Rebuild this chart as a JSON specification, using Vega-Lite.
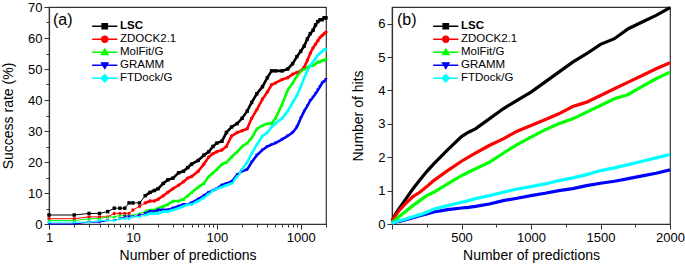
{
"$schema": "https://vega.github.io/schema/vega-lite/v6.json",
"padding": {"left": 0, "right": 0, "top": 0, "bottom": 3},
"spacing": 19,
"config": {
 "font": "Liberation Sans",
 "view": {"stroke": "#333", "strokeWidth": 1.2},
 "axis": {"domainColor": "#333", "domainWidth": 1.2, "tickColor": "#333", "tickWidth": 1, "labelColor": "#000", "titleColor": "#000", "labelFontSize": 13, "titleFontSize": 14, "titleFontWeight": "normal", "grid": false, "labelPadding": 2, "labelFlush": false, "labelOverlap": false},
 "axisY": {"titlePadding": 12},
 "axisX": {"titlePadding": 4},
 "title": {"fontSize": 16, "fontWeight": "normal", "color": "#000"},
 "legend": {"title": null, "orient": "none", "padding": 0, "labelFontSize": 11.5, "labelColor": "#000", "symbolSize": 36, "symbolStrokeWidth": 1.3, "labelOffset": 9.5, "rowPadding": 0, "symbolOpacity": 1}
},
"datasets": {
"a": [
{"s":"LSC","n":1,"v":2.9},{"s":"LSC","n":2,"v":2.9},{"s":"LSC","n":3,"v":3.4},{"s":"LSC","n":4,"v":3.4},{"s":"LSC","n":5,"v":4.0},{"s":"LSC","n":6,"v":5.1},{"s":"LSC","n":7,"v":5.1},{"s":"LSC","n":8,"v":5.1},{"s":"LSC","n":9,"v":6.8},{"s":"LSC","n":10,"v":6.8},{"s":"LSC","n":12,"v":6.8},{"s":"LSC","n":14,"v":9.1},{"s":"LSC","n":16,"v":10.2},{"s":"LSC","n":18,"v":10.8},{"s":"LSC","n":20,"v":11.4},{"s":"LSC","n":23,"v":13.1},{"s":"LSC","n":26,"v":14.2},{"s":"LSC","n":30,"v":14.8},{"s":"LSC","n":35,"v":16.5},{"s":"LSC","n":40,"v":17.0},{"s":"LSC","n":45,"v":18.2},{"s":"LSC","n":50,"v":19.3},{"s":"LSC","n":60,"v":20.5},{"s":"LSC","n":70,"v":22.2},{"s":"LSC","n":80,"v":23.3},{"s":"LSC","n":90,"v":25.0},{"s":"LSC","n":100,"v":26.1},{"s":"LSC","n":115,"v":26.7},{"s":"LSC","n":130,"v":29.5},{"s":"LSC","n":150,"v":31.3},{"s":"LSC","n":175,"v":32.4},{"s":"LSC","n":200,"v":34.1},{"s":"LSC","n":230,"v":36.4},{"s":"LSC","n":260,"v":39.2},{"s":"LSC","n":300,"v":42.0},{"s":"LSC","n":350,"v":44.3},{"s":"LSC","n":400,"v":47.2},{"s":"LSC","n":450,"v":49.4},{"s":"LSC","n":500,"v":49.4},{"s":"LSC","n":600,"v":49.4},{"s":"LSC","n":700,"v":50.0},{"s":"LSC","n":800,"v":51.7},{"s":"LSC","n":900,"v":54.0},{"s":"LSC","n":1000,"v":55.7},{"s":"LSC","n":1100,"v":57.4},{"s":"LSC","n":1200,"v":59.7},{"s":"LSC","n":1300,"v":61.4},{"s":"LSC","n":1400,"v":62.5},{"s":"LSC","n":1500,"v":64.2},{"s":"LSC","n":1600,"v":65.3},{"s":"LSC","n":1700,"v":65.9},{"s":"LSC","n":1800,"v":65.9},{"s":"LSC","n":1900,"v":66.5},{"s":"LSC","n":2000,"v":66.5},
{"s":"ZDOCK2.1","n":1,"v":1.7},{"s":"ZDOCK2.1","n":2,"v":1.7},{"s":"ZDOCK2.1","n":3,"v":2.3},{"s":"ZDOCK2.1","n":4,"v":2.3},{"s":"ZDOCK2.1","n":5,"v":2.3},{"s":"ZDOCK2.1","n":6,"v":3.4},{"s":"ZDOCK2.1","n":7,"v":3.4},{"s":"ZDOCK2.1","n":8,"v":3.4},{"s":"ZDOCK2.1","n":9,"v":3.4},{"s":"ZDOCK2.1","n":10,"v":4.5},{"s":"ZDOCK2.1","n":12,"v":5.7},{"s":"ZDOCK2.1","n":14,"v":6.8},{"s":"ZDOCK2.1","n":16,"v":7.4},{"s":"ZDOCK2.1","n":18,"v":7.4},{"s":"ZDOCK2.1","n":20,"v":8.0},{"s":"ZDOCK2.1","n":23,"v":9.1},{"s":"ZDOCK2.1","n":26,"v":10.2},{"s":"ZDOCK2.1","n":30,"v":11.4},{"s":"ZDOCK2.1","n":35,"v":12.5},{"s":"ZDOCK2.1","n":40,"v":13.6},{"s":"ZDOCK2.1","n":45,"v":14.8},{"s":"ZDOCK2.1","n":50,"v":15.3},{"s":"ZDOCK2.1","n":60,"v":17.0},{"s":"ZDOCK2.1","n":70,"v":19.3},{"s":"ZDOCK2.1","n":80,"v":21.6},{"s":"ZDOCK2.1","n":90,"v":22.7},{"s":"ZDOCK2.1","n":100,"v":23.3},{"s":"ZDOCK2.1","n":115,"v":23.9},{"s":"ZDOCK2.1","n":130,"v":25.0},{"s":"ZDOCK2.1","n":150,"v":28.4},{"s":"ZDOCK2.1","n":175,"v":29.5},{"s":"ZDOCK2.1","n":200,"v":30.1},{"s":"ZDOCK2.1","n":230,"v":30.7},{"s":"ZDOCK2.1","n":260,"v":34.1},{"s":"ZDOCK2.1","n":300,"v":36.9},{"s":"ZDOCK2.1","n":350,"v":40.3},{"s":"ZDOCK2.1","n":400,"v":42.6},{"s":"ZDOCK2.1","n":450,"v":44.9},{"s":"ZDOCK2.1","n":500,"v":45.5},{"s":"ZDOCK2.1","n":600,"v":46.6},{"s":"ZDOCK2.1","n":700,"v":47.2},{"s":"ZDOCK2.1","n":800,"v":48.3},{"s":"ZDOCK2.1","n":900,"v":48.9},{"s":"ZDOCK2.1","n":1000,"v":49.4},{"s":"ZDOCK2.1","n":1100,"v":50.6},{"s":"ZDOCK2.1","n":1200,"v":52.8},{"s":"ZDOCK2.1","n":1300,"v":55.1},{"s":"ZDOCK2.1","n":1400,"v":56.8},{"s":"ZDOCK2.1","n":1500,"v":58.0},{"s":"ZDOCK2.1","n":1600,"v":59.1},{"s":"ZDOCK2.1","n":1700,"v":60.2},{"s":"ZDOCK2.1","n":1800,"v":60.8},{"s":"ZDOCK2.1","n":1900,"v":61.4},{"s":"ZDOCK2.1","n":2000,"v":61.9},
{"s":"MolFit/G","n":1,"v":1.1},{"s":"MolFit/G","n":2,"v":1.1},{"s":"MolFit/G","n":3,"v":1.7},{"s":"MolFit/G","n":4,"v":1.7},{"s":"MolFit/G","n":5,"v":2.3},{"s":"MolFit/G","n":6,"v":2.3},{"s":"MolFit/G","n":7,"v":2.8},{"s":"MolFit/G","n":8,"v":2.8},{"s":"MolFit/G","n":9,"v":2.8},{"s":"MolFit/G","n":10,"v":2.8},{"s":"MolFit/G","n":12,"v":3.4},{"s":"MolFit/G","n":14,"v":4.0},{"s":"MolFit/G","n":16,"v":4.5},{"s":"MolFit/G","n":18,"v":4.5},{"s":"MolFit/G","n":20,"v":5.1},{"s":"MolFit/G","n":23,"v":5.7},{"s":"MolFit/G","n":26,"v":6.3},{"s":"MolFit/G","n":30,"v":7.4},{"s":"MolFit/G","n":35,"v":7.4},{"s":"MolFit/G","n":40,"v":8.0},{"s":"MolFit/G","n":45,"v":9.1},{"s":"MolFit/G","n":50,"v":10.2},{"s":"MolFit/G","n":60,"v":11.9},{"s":"MolFit/G","n":70,"v":13.1},{"s":"MolFit/G","n":80,"v":15.3},{"s":"MolFit/G","n":90,"v":16.5},{"s":"MolFit/G","n":100,"v":17.6},{"s":"MolFit/G","n":115,"v":19.3},{"s":"MolFit/G","n":130,"v":19.9},{"s":"MolFit/G","n":150,"v":21.6},{"s":"MolFit/G","n":175,"v":23.3},{"s":"MolFit/G","n":200,"v":25.0},{"s":"MolFit/G","n":230,"v":26.1},{"s":"MolFit/G","n":260,"v":27.8},{"s":"MolFit/G","n":300,"v":30.7},{"s":"MolFit/G","n":350,"v":31.8},{"s":"MolFit/G","n":400,"v":32.4},{"s":"MolFit/G","n":450,"v":32.4},{"s":"MolFit/G","n":500,"v":34.1},{"s":"MolFit/G","n":600,"v":38.6},{"s":"MolFit/G","n":700,"v":43.2},{"s":"MolFit/G","n":800,"v":45.5},{"s":"MolFit/G","n":900,"v":47.7},{"s":"MolFit/G","n":1000,"v":49.4},{"s":"MolFit/G","n":1100,"v":50.0},{"s":"MolFit/G","n":1200,"v":50.6},{"s":"MolFit/G","n":1300,"v":51.1},{"s":"MolFit/G","n":1400,"v":51.1},{"s":"MolFit/G","n":1500,"v":51.7},{"s":"MolFit/G","n":1600,"v":52.3},{"s":"MolFit/G","n":1700,"v":52.3},{"s":"MolFit/G","n":1800,"v":52.8},{"s":"MolFit/G","n":1900,"v":52.8},{"s":"MolFit/G","n":2000,"v":53.4},
{"s":"GRAMM","n":1,"v":0.0},{"s":"GRAMM","n":2,"v":0.0},{"s":"GRAMM","n":3,"v":0.6},{"s":"GRAMM","n":4,"v":0.6},{"s":"GRAMM","n":5,"v":1.1},{"s":"GRAMM","n":6,"v":1.1},{"s":"GRAMM","n":7,"v":1.7},{"s":"GRAMM","n":8,"v":2.3},{"s":"GRAMM","n":9,"v":2.3},{"s":"GRAMM","n":10,"v":2.3},{"s":"GRAMM","n":12,"v":2.8},{"s":"GRAMM","n":14,"v":3.4},{"s":"GRAMM","n":16,"v":4.0},{"s":"GRAMM","n":18,"v":4.0},{"s":"GRAMM","n":20,"v":4.5},{"s":"GRAMM","n":23,"v":4.5},{"s":"GRAMM","n":26,"v":4.5},{"s":"GRAMM","n":30,"v":5.1},{"s":"GRAMM","n":35,"v":5.7},{"s":"GRAMM","n":40,"v":6.3},{"s":"GRAMM","n":45,"v":6.3},{"s":"GRAMM","n":50,"v":6.8},{"s":"GRAMM","n":60,"v":8.0},{"s":"GRAMM","n":70,"v":9.1},{"s":"GRAMM","n":80,"v":10.2},{"s":"GRAMM","n":90,"v":10.8},{"s":"GRAMM","n":100,"v":11.4},{"s":"GRAMM","n":115,"v":12.5},{"s":"GRAMM","n":130,"v":13.1},{"s":"GRAMM","n":150,"v":13.6},{"s":"GRAMM","n":175,"v":15.9},{"s":"GRAMM","n":200,"v":17.0},{"s":"GRAMM","n":230,"v":17.6},{"s":"GRAMM","n":260,"v":19.9},{"s":"GRAMM","n":300,"v":22.2},{"s":"GRAMM","n":350,"v":23.9},{"s":"GRAMM","n":400,"v":25.0},{"s":"GRAMM","n":450,"v":25.6},{"s":"GRAMM","n":500,"v":26.1},{"s":"GRAMM","n":600,"v":27.3},{"s":"GRAMM","n":700,"v":28.4},{"s":"GRAMM","n":800,"v":29.5},{"s":"GRAMM","n":900,"v":31.3},{"s":"GRAMM","n":1000,"v":34.1},{"s":"GRAMM","n":1100,"v":36.4},{"s":"GRAMM","n":1200,"v":38.1},{"s":"GRAMM","n":1300,"v":39.8},{"s":"GRAMM","n":1400,"v":40.9},{"s":"GRAMM","n":1500,"v":42.0},{"s":"GRAMM","n":1600,"v":43.2},{"s":"GRAMM","n":1700,"v":44.3},{"s":"GRAMM","n":1800,"v":45.5},{"s":"GRAMM","n":1900,"v":46.0},{"s":"GRAMM","n":2000,"v":46.6},
{"s":"FTDock/G","n":1,"v":0.6},{"s":"FTDock/G","n":2,"v":0.6},{"s":"FTDock/G","n":3,"v":0.6},{"s":"FTDock/G","n":4,"v":1.1},{"s":"FTDock/G","n":5,"v":1.1},{"s":"FTDock/G","n":6,"v":1.1},{"s":"FTDock/G","n":7,"v":1.7},{"s":"FTDock/G","n":8,"v":1.7},{"s":"FTDock/G","n":9,"v":1.7},{"s":"FTDock/G","n":10,"v":2.3},{"s":"FTDock/G","n":12,"v":2.3},{"s":"FTDock/G","n":14,"v":2.8},{"s":"FTDock/G","n":16,"v":3.4},{"s":"FTDock/G","n":18,"v":3.4},{"s":"FTDock/G","n":20,"v":3.4},{"s":"FTDock/G","n":23,"v":4.0},{"s":"FTDock/G","n":26,"v":4.0},{"s":"FTDock/G","n":30,"v":4.5},{"s":"FTDock/G","n":35,"v":5.1},{"s":"FTDock/G","n":40,"v":5.7},{"s":"FTDock/G","n":45,"v":6.3},{"s":"FTDock/G","n":50,"v":6.3},{"s":"FTDock/G","n":60,"v":7.4},{"s":"FTDock/G","n":70,"v":8.5},{"s":"FTDock/G","n":80,"v":9.7},{"s":"FTDock/G","n":90,"v":10.8},{"s":"FTDock/G","n":100,"v":11.4},{"s":"FTDock/G","n":115,"v":11.9},{"s":"FTDock/G","n":130,"v":12.5},{"s":"FTDock/G","n":150,"v":13.1},{"s":"FTDock/G","n":175,"v":15.3},{"s":"FTDock/G","n":200,"v":17.6},{"s":"FTDock/G","n":230,"v":19.9},{"s":"FTDock/G","n":260,"v":22.7},{"s":"FTDock/G","n":300,"v":25.6},{"s":"FTDock/G","n":350,"v":28.4},{"s":"FTDock/G","n":400,"v":29.5},{"s":"FTDock/G","n":450,"v":31.3},{"s":"FTDock/G","n":500,"v":32.4},{"s":"FTDock/G","n":600,"v":34.1},{"s":"FTDock/G","n":700,"v":36.4},{"s":"FTDock/G","n":800,"v":39.2},{"s":"FTDock/G","n":900,"v":41.5},{"s":"FTDock/G","n":1000,"v":44.3},{"s":"FTDock/G","n":1100,"v":47.2},{"s":"FTDock/G","n":1200,"v":49.4},{"s":"FTDock/G","n":1300,"v":51.1},{"s":"FTDock/G","n":1400,"v":52.3},{"s":"FTDock/G","n":1500,"v":53.4},{"s":"FTDock/G","n":1600,"v":54.5},{"s":"FTDock/G","n":1700,"v":55.1},{"s":"FTDock/G","n":1800,"v":55.7},{"s":"FTDock/G","n":1900,"v":56.3},{"s":"FTDock/G","n":2000,"v":56.3}
],
"b": [
{"s":"LSC","n":0,"v":0.1},{"s":"LSC","n":25,"v":0.3},{"s":"LSC","n":50,"v":0.45},{"s":"LSC","n":100,"v":0.75},{"s":"LSC","n":150,"v":1.05},{"s":"LSC","n":200,"v":1.32},{"s":"LSC","n":250,"v":1.57},{"s":"LSC","n":300,"v":1.8},{"s":"LSC","n":400,"v":2.22},{"s":"LSC","n":500,"v":2.62},{"s":"LSC","n":550,"v":2.75},{"s":"LSC","n":600,"v":2.85},{"s":"LSC","n":700,"v":3.15},{"s":"LSC","n":800,"v":3.45},{"s":"LSC","n":900,"v":3.7},{"s":"LSC","n":1000,"v":3.95},{"s":"LSC","n":1100,"v":4.25},{"s":"LSC","n":1200,"v":4.55},{"s":"LSC","n":1300,"v":4.85},{"s":"LSC","n":1400,"v":5.1},{"s":"LSC","n":1500,"v":5.38},{"s":"LSC","n":1600,"v":5.55},{"s":"LSC","n":1700,"v":5.85},{"s":"LSC","n":1800,"v":6.05},{"s":"LSC","n":1900,"v":6.25},{"s":"LSC","n":2000,"v":6.48},
{"s":"ZDOCK2.1","n":0,"v":0.1},{"s":"ZDOCK2.1","n":25,"v":0.25},{"s":"ZDOCK2.1","n":50,"v":0.4},{"s":"ZDOCK2.1","n":100,"v":0.62},{"s":"ZDOCK2.1","n":150,"v":0.82},{"s":"ZDOCK2.1","n":200,"v":0.95},{"s":"ZDOCK2.1","n":250,"v":1.12},{"s":"ZDOCK2.1","n":300,"v":1.3},{"s":"ZDOCK2.1","n":400,"v":1.6},{"s":"ZDOCK2.1","n":500,"v":1.88},{"s":"ZDOCK2.1","n":550,"v":2.0},{"s":"ZDOCK2.1","n":600,"v":2.12},{"s":"ZDOCK2.1","n":700,"v":2.35},{"s":"ZDOCK2.1","n":800,"v":2.55},{"s":"ZDOCK2.1","n":900,"v":2.78},{"s":"ZDOCK2.1","n":1000,"v":2.95},{"s":"ZDOCK2.1","n":1100,"v":3.12},{"s":"ZDOCK2.1","n":1200,"v":3.3},{"s":"ZDOCK2.1","n":1300,"v":3.52},{"s":"ZDOCK2.1","n":1400,"v":3.65},{"s":"ZDOCK2.1","n":1500,"v":3.85},{"s":"ZDOCK2.1","n":1600,"v":4.05},{"s":"ZDOCK2.1","n":1700,"v":4.25},{"s":"ZDOCK2.1","n":1800,"v":4.45},{"s":"ZDOCK2.1","n":1900,"v":4.65},{"s":"ZDOCK2.1","n":2000,"v":4.83},
{"s":"MolFit/G","n":0,"v":0.05},{"s":"MolFit/G","n":25,"v":0.12},{"s":"MolFit/G","n":50,"v":0.22},{"s":"MolFit/G","n":100,"v":0.38},{"s":"MolFit/G","n":150,"v":0.55},{"s":"MolFit/G","n":200,"v":0.7},{"s":"MolFit/G","n":250,"v":0.85},{"s":"MolFit/G","n":300,"v":0.95},{"s":"MolFit/G","n":400,"v":1.2},{"s":"MolFit/G","n":500,"v":1.45},{"s":"MolFit/G","n":550,"v":1.55},{"s":"MolFit/G","n":600,"v":1.65},{"s":"MolFit/G","n":700,"v":1.85},{"s":"MolFit/G","n":800,"v":2.12},{"s":"MolFit/G","n":900,"v":2.38},{"s":"MolFit/G","n":1000,"v":2.6},{"s":"MolFit/G","n":1100,"v":2.82},{"s":"MolFit/G","n":1200,"v":3.0},{"s":"MolFit/G","n":1300,"v":3.15},{"s":"MolFit/G","n":1400,"v":3.35},{"s":"MolFit/G","n":1500,"v":3.55},{"s":"MolFit/G","n":1600,"v":3.75},{"s":"MolFit/G","n":1700,"v":3.88},{"s":"MolFit/G","n":1800,"v":4.12},{"s":"MolFit/G","n":1900,"v":4.35},{"s":"MolFit/G","n":2000,"v":4.55},
{"s":"GRAMM","n":0,"v":0.02},{"s":"GRAMM","n":25,"v":0.05},{"s":"GRAMM","n":50,"v":0.08},{"s":"GRAMM","n":100,"v":0.13},{"s":"GRAMM","n":150,"v":0.19},{"s":"GRAMM","n":200,"v":0.25},{"s":"GRAMM","n":250,"v":0.3},{"s":"GRAMM","n":300,"v":0.36},{"s":"GRAMM","n":400,"v":0.43},{"s":"GRAMM","n":500,"v":0.48},{"s":"GRAMM","n":550,"v":0.5},{"s":"GRAMM","n":600,"v":0.53},{"s":"GRAMM","n":700,"v":0.6},{"s":"GRAMM","n":800,"v":0.7},{"s":"GRAMM","n":900,"v":0.77},{"s":"GRAMM","n":1000,"v":0.85},{"s":"GRAMM","n":1100,"v":0.92},{"s":"GRAMM","n":1200,"v":1.0},{"s":"GRAMM","n":1300,"v":1.06},{"s":"GRAMM","n":1400,"v":1.15},{"s":"GRAMM","n":1500,"v":1.22},{"s":"GRAMM","n":1600,"v":1.28},{"s":"GRAMM","n":1700,"v":1.36},{"s":"GRAMM","n":1800,"v":1.44},{"s":"GRAMM","n":1900,"v":1.52},{"s":"GRAMM","n":2000,"v":1.62},
{"s":"FTDock/G","n":0,"v":0.02},{"s":"FTDock/G","n":25,"v":0.06},{"s":"FTDock/G","n":50,"v":0.1},{"s":"FTDock/G","n":100,"v":0.15},{"s":"FTDock/G","n":150,"v":0.22},{"s":"FTDock/G","n":200,"v":0.28},{"s":"FTDock/G","n":250,"v":0.35},{"s":"FTDock/G","n":300,"v":0.45},{"s":"FTDock/G","n":400,"v":0.55},{"s":"FTDock/G","n":500,"v":0.65},{"s":"FTDock/G","n":550,"v":0.7},{"s":"FTDock/G","n":600,"v":0.76},{"s":"FTDock/G","n":700,"v":0.85},{"s":"FTDock/G","n":800,"v":0.95},{"s":"FTDock/G","n":900,"v":1.05},{"s":"FTDock/G","n":1000,"v":1.12},{"s":"FTDock/G","n":1100,"v":1.2},{"s":"FTDock/G","n":1200,"v":1.3},{"s":"FTDock/G","n":1300,"v":1.38},{"s":"FTDock/G","n":1400,"v":1.48},{"s":"FTDock/G","n":1500,"v":1.6},{"s":"FTDock/G","n":1600,"v":1.68},{"s":"FTDock/G","n":1700,"v":1.78},{"s":"FTDock/G","n":1800,"v":1.88},{"s":"FTDock/G","n":1900,"v":1.98},{"s":"FTDock/G","n":2000,"v":2.08}
]
},
"resolve": {"scale": {"color": "independent"}},
"hconcat": [
{
 "width": 277, "height": 217,
 "title": {"text": "(a)", "anchor": "start", "frame": "group", "offset": -27, "dx": 4},
 "data": {"name": "a"},
 "encoding": {
  "x": {"field": "n", "type": "quantitative", "scale": {"type": "log", "domain": [1, 2000], "nice": false},
   "axis": {"title": "Number of predictions", "format": "d", "values": [1,2,3,4,5,6,7,8,9,10,20,30,40,50,60,70,80,90,100,200,300,400,500,600,700,800,900,1000,2000],
    "labelExpr": "(datum.value == 1 || datum.value == 10 || datum.value == 100 || datum.value == 1000) ? datum.label : ''",
    "tickSize": {"condition": {"test": "datum.value == 1 || datum.value == 10 || datum.value == 100 || datum.value == 1000", "value": 5}, "value": 3}}},
  "y": {"field": "v", "type": "quantitative", "scale": {"domain": [0, 70], "nice": false},
   "axis": {"title": "Success rate (%)", "values": [0,5,10,15,20,25,30,35,40,45,50,55,60,65,70],
    "labelExpr": "datum.value % 10 == 0 ? datum.label : ''",
    "tickSize": {"condition": {"test": "datum.value % 10 == 0", "value": 5}, "value": 3}}}
 },
 "layer": [
  {"mark": {"type": "line", "strokeWidth": 1},
   "encoding": {"color": {"field": "s", "type": "nominal",
    "scale": {"domain": ["LSC","ZDOCK2.1","MolFit/G","GRAMM","FTDock/G"], "range": ["#000000","#ff0000","#00ff00","#0000ff","#00ffff"]},
    "legend": {"legendX": 50, "legendY": 13.5,
     "labelFontWeight": {"expr": "datum.value === 'LSC' ? 'bold' : 'normal'"},
     "symbolType": {"expr": "datum.value === 'LSC' ? 'M-4.2,0H4.2M-0.9,-0.9H0.9V0.9H-0.9Z' : datum.value === 'ZDOCK2.1' ? 'M-4.2,0H4.2M-1,0A1,1,0,1,0,1,0A1,1,0,1,0,-1,0Z' : datum.value === 'MolFit/G' ? 'M-4.2,0H4.2M0,-1.1L1.1,0.8H-1.1Z' : datum.value === 'GRAMM' ? 'M-4.2,0H4.2M0,1.1L1.1,-0.8H-1.1Z' : 'M-4.2,0H4.2M0,-1.25L1.25,0L0,1.25L-1.25,0Z'"},
     "symbolFillColor": {"expr": "datum.value === 'LSC' ? '#000000' : datum.value === 'ZDOCK2.1' ? '#ff0000' : datum.value === 'MolFit/G' ? '#00ff00' : datum.value === 'GRAMM' ? '#0000ff' : '#00ffff'"},
     "symbolStrokeColor": {"expr": "datum.value === 'LSC' ? '#000000' : datum.value === 'ZDOCK2.1' ? '#ff0000' : datum.value === 'MolFit/G' ? '#00ff00' : datum.value === 'GRAMM' ? '#0000ff' : '#00ffff'"}}}}},
  {"transform": [{"filter": "datum.n >= 14"}], "mark": {"type": "line", "strokeWidth": 2.6},
   "encoding": {"color": {"field": "s", "type": "nominal", "legend": null,
    "scale": {"domain": ["LSC","ZDOCK2.1","MolFit/G","GRAMM","FTDock/G"], "range": ["#000000","#ff0000","#00ff00","#0000ff","#00ffff"]}}}},
  {"transform": [{"filter": "datum.s == 'LSC'"}], "mark": {"type": "point", "filled": true, "opacity": 1, "size": 12, "shape": "square", "color": "#000000"}},
  {"transform": [{"filter": "datum.s == 'ZDOCK2.1'"}], "mark": {"type": "point", "filled": true, "opacity": 1, "size": 12, "shape": "circle", "color": "#ff0000"}},
  {"transform": [{"filter": "datum.s == 'MolFit/G'"}], "mark": {"type": "point", "filled": true, "opacity": 1, "size": 12, "shape": "triangle-up", "color": "#00ff00"}},
  {"transform": [{"filter": "datum.s == 'GRAMM'"}], "mark": {"type": "point", "filled": true, "opacity": 1, "size": 12, "shape": "triangle-down", "color": "#0000ff"}},
  {"transform": [{"filter": "datum.s == 'FTDock/G'"}], "mark": {"type": "point", "filled": true, "opacity": 1, "size": 12, "shape": "diamond", "color": "#00ffff"}}
 ]
},
{
 "width": 278, "height": 217,
 "title": {"text": "(b)", "anchor": "start", "frame": "group", "offset": -27, "dx": 5},
 "data": {"name": "b"},
 "mark": {"type": "line", "strokeWidth": 3.2},
 "encoding": {
  "x": {"field": "n", "type": "quantitative", "scale": {"domain": [0, 2000], "nice": false},
   "axis": {"title": "Number of predictions", "format": "d", "values": [0,250,500,750,1000,1250,1500,1750,2000],
    "labelExpr": "(datum.value % 500 == 0 && datum.value > 0) ? datum.label : ''",
    "tickSize": {"condition": {"test": "datum.value % 500 == 0", "value": 5}, "value": 3}}},
  "y": {"field": "v", "type": "quantitative", "scale": {"domain": [0, 6.5], "nice": false},
   "axis": {"title": "Number of hits", "format": "d", "values": [0,0.5,1,1.5,2,2.5,3,3.5,4,4.5,5,5.5,6,6.5],
    "labelExpr": "datum.value % 1 == 0 ? datum.label : ''",
    "tickSize": {"condition": {"test": "datum.value % 1 == 0", "value": 5}, "value": 3}}},
  "color": {"field": "s", "type": "nominal",
   "scale": {"domain": ["LSC","ZDOCK2.1","MolFit/G","GRAMM","FTDock/G"], "range": ["#000000","#ff0000","#00ff00","#0000ff","#00ffff"]},
   "legend": {"legendX": 48, "legendY": 13.5,
    "labelFontWeight": {"expr": "datum.value === 'LSC' ? 'bold' : 'normal'"},
    "symbolType": {"expr": "datum.value === 'LSC' ? 'M-4.2,0H4.2M-0.9,-0.9H0.9V0.9H-0.9Z' : datum.value === 'ZDOCK2.1' ? 'M-4.2,0H4.2M-1,0A1,1,0,1,0,1,0A1,1,0,1,0,-1,0Z' : datum.value === 'MolFit/G' ? 'M-4.2,0H4.2M0,-1.1L1.1,0.8H-1.1Z' : datum.value === 'GRAMM' ? 'M-4.2,0H4.2M0,1.1L1.1,-0.8H-1.1Z' : 'M-4.2,0H4.2M0,-1.25L1.25,0L0,1.25L-1.25,0Z'"},
    "symbolFillColor": {"expr": "datum.value === 'LSC' ? '#000000' : datum.value === 'ZDOCK2.1' ? '#ff0000' : datum.value === 'MolFit/G' ? '#00ff00' : datum.value === 'GRAMM' ? '#0000ff' : '#00ffff'"},
    "symbolStrokeColor": {"expr": "datum.value === 'LSC' ? '#000000' : datum.value === 'ZDOCK2.1' ? '#ff0000' : datum.value === 'MolFit/G' ? '#00ff00' : datum.value === 'GRAMM' ? '#0000ff' : '#00ffff'"}}}
 }
}
]
}
